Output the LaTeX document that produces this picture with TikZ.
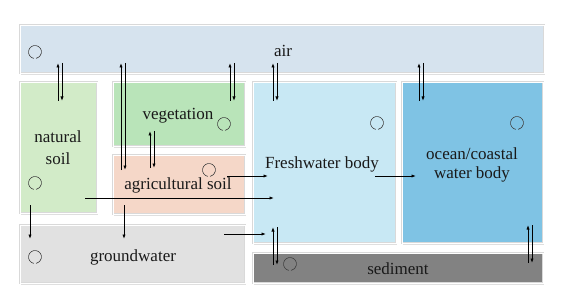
\documentclass[tikz,border=0pt]{standalone}
\usepackage{fontspec}
\setmainfont{Liberation Serif}
\newfontfamily\timesfam{Liberation Serif}
\usetikzlibrary{arrows.meta,shadows}
\definecolor{cair}{HTML}{D6E3EE}
\definecolor{cnat}{HTML}{D2EBC8}
\definecolor{cveg}{HTML}{B9E4B9}
\definecolor{cagr}{HTML}{F5D7C8}
\definecolor{cfw}{HTML}{C8E8F4}
\definecolor{coc}{HTML}{7FC3E4}
\definecolor{cgw}{HTML}{E1E1E1}
\definecolor{csed}{HTML}{828282}
\newcommand\twoway[2]{\draw[arr] ([xshift=-2pt]#2) -- ([xshift=-2pt]#1); \draw[arr] ([xshift=2pt]#1) -- ([xshift=2pt]#2);}
\newcommand\cycmark[1]{\draw[cyc] (#1) ++(100:6.5) arc[start angle=100, end angle=440, radius=6.5];}
\begin{document}
\begin{tikzpicture}[x=1pt,y=-1pt,
  box/.style={draw=gray!30, double=white, double distance=1.2pt, line width=0.5pt, inner sep=0pt, anchor=north west,
    drop shadow={shadow xshift=1pt, shadow yshift=-1.5pt, fill=gray!35, opacity=0.7}},
  lbl/.style={font=\timesfam\fontsize{17}{19}\selectfont, text=black!90, inner sep=0pt, align=center},
  arr/.style={-{Latex[length=4.5pt,width=3.2pt]}, line width=0.8pt, black},
  cyc/.style={draw=black!75, line width=0.6pt}]
\useasboundingbox (0,0) rectangle (561,307);
% boxes
\node[box, fill=cair, minimum width=524pt, minimum height=48pt] (air) at (20,25) {};
\node[box, fill=cnat, minimum width=77pt, minimum height=131pt] (nat) at (20,82) {};
\node[box, fill=cveg, minimum width=132pt, minimum height=64pt] (veg) at (113,82) {};
\node[box, fill=cagr, minimum width=132pt, minimum height=59pt] (agr) at (113,155) {};
\node[box, fill=cfw, minimum width=143pt, minimum height=161pt] (fw) at (253,82) {};
\node[box, fill=coc, minimum width=141pt, minimum height=161pt] (oc) at (402,82) {};
\node[box, fill=cgw, minimum width=225pt, minimum height=58pt] (gw) at (20,225) {};
\node[box, fill=csed, minimum width=290pt, minimum height=30pt] (sed) at (253,253) {};
% labels
\node[lbl] (tair) at (283,51) {air};
\node[lbl] (tveg) at (178,116) {vegetation};
\node[lbl] (tnat) at (58,148) {natural\\[3pt]soil};
\node[lbl] (tagr) at (178,185) {agricultural soil};
\node[lbl] (tgw) at (133,257) {groundwater};
\node[lbl] (tfw) at (322,164) {Freshwater body};
\node[lbl] (toc) at (472,165) {ocean/coastal\\water body};
\node[lbl] (tsed) at (398,269) {sediment};
% cycle marks
\coordinate (c1) at (35,52);
\coordinate (c2) at (224,124);
\coordinate (c3) at (209,170);
\coordinate (c4) at (35,183);
\coordinate (c5) at (35,257);
\coordinate (c6) at (290,264);
\coordinate (c7) at (377,123);
\coordinate (c8) at (517,123);
\foreach \c in {c1,c2,c3,c4,c5,c6,c7,c8} {\cycmark{\c}}
% arrow end points
\coordinate (a1t) at (60,63);   \coordinate (a1b) at (60,101);
\coordinate (a2t) at (123,63);  \coordinate (a2b) at (123,170);
\coordinate (a3t) at (232,63);  \coordinate (a3b) at (232,101);
\coordinate (a4t) at (275,63);  \coordinate (a4b) at (275,101);
\coordinate (a5t) at (421,63);  \coordinate (a5b) at (421,101);
\coordinate (a6t) at (152,131); \coordinate (a6b) at (152,168);
\coordinate (a7t) at (275,227); \coordinate (a7b) at (275,265);
\coordinate (a8t) at (530,225); \coordinate (a8b) at (530,263);
\twoway{a1t}{a1b}
\twoway{a2t}{a2b}
\twoway{a3t}{a3b}
\twoway{a4t}{a4b}
\twoway{a5t}{a5b}
\twoway{a6t}{a6b}
\twoway{a7t}{a7b}
\twoway{a8t}{a8b}
% one-way arrows
\coordinate (b1s) at (30,205);  \coordinate (b1e) at (30,239);
\coordinate (b2s) at (124,205); \coordinate (b2e) at (124,239);
\coordinate (b3s) at (85,198);  \coordinate (b3e) at (274,198);
\coordinate (b4s) at (227,176); \coordinate (b4e) at (268,176);
\coordinate (b5s) at (224,234); \coordinate (b5e) at (266,234);
\coordinate (b6s) at (375,176); \coordinate (b6e) at (416,176);
\draw[arr] (b1s) -- (b1e);
\draw[arr] (b2s) -- (b2e);
\draw[arr] (b3s) -- (b3e);
\draw[arr] (b4s) -- (b4e);
\draw[arr] (b5s) -- (b5e);
\draw[arr] (b6s) -- (b6e);
\end{tikzpicture}
\end{document}
